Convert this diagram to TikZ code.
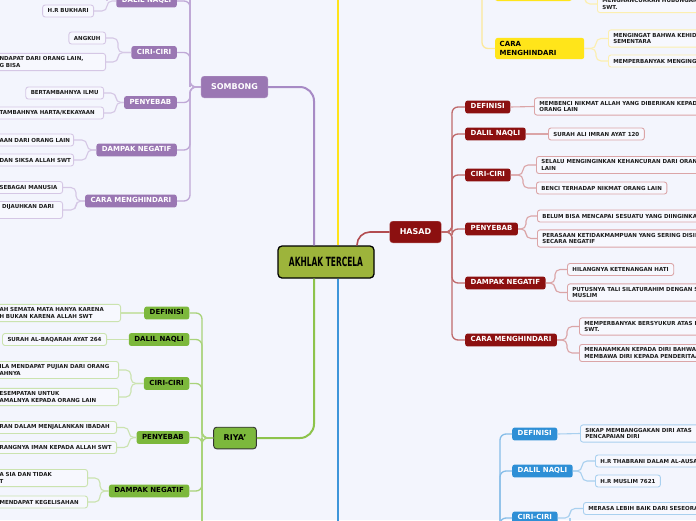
\documentclass[tikz,border=0pt]{standalone}
\usepackage{fontspec}
\setmainfont{DejaVu Sans}
\usepackage{graphicx}
\newcommand\lline[1]{\mbox{#1}}
\definecolor{bgc}{HTML}{F3F5FD}
\definecolor{leafF}{HTML}{F7F8FE}
\definecolor{leafT}{HTML}{1C1C1C}
\definecolor{fillP}{HTML}{9A77B3}\definecolor{mainP}{HTML}{A78AC5}\definecolor{subP}{HTML}{BFA8D6}\definecolor{lfP}{HTML}{D5C7E5}
\definecolor{fillG}{HTML}{7CB83C}\definecolor{mainG}{HTML}{8DC34B}\definecolor{subG}{HTML}{A9D37A}\definecolor{lfG}{HTML}{CBE3AF}
\definecolor{fillR}{HTML}{8C1010}\definecolor{mainR}{HTML}{B24C50}\definecolor{subR}{HTML}{BF6A6C}\definecolor{lfR}{HTML}{DBA5A7}
\definecolor{fillB}{HTML}{2E8FD6}\definecolor{mainB}{HTML}{3D95DA}\definecolor{subB}{HTML}{86BDE8}\definecolor{lfB}{HTML}{A9D0EF}
\definecolor{fillY}{HTML}{FFE51A}\definecolor{mainY}{HTML}{FFE41A}\definecolor{subY}{HTML}{FCE89A}\definecolor{lfY}{HTML}{FCEFB0}
\definecolor{fillC}{HTML}{9DB43B}
\tikzset{
  leaf/.style={draw, line width=0.9pt, fill=leafF, rounded corners=2.5pt, font=\fontsize{5.5}{6.6}\selectfont\bfseries, text=leafT, inner xsep=5pt, inner ysep=3.2pt, align=left, minimum height=12pt},
  br/.style={rounded corners=2.5pt, font=\fontsize{7}{9}\selectfont\bfseries, inner xsep=5.5pt, inner ysep=3pt, text height=5.4pt, text depth=1.5pt},
  mainbr/.style={rounded corners=3pt, font=\fontsize{8}{10}\selectfont\bfseries, inner xsep=10pt, inner ysep=7pt, text height=6pt, text depth=1.6pt},
  brP/.style={br, fill=fillP, text=white, anchor=east},
  brG/.style={br, fill=fillG, text=black, anchor=east},
  brR/.style={br, fill=fillR, text=white, anchor=west},
  brB/.style={br, fill=fillB, text=white, anchor=west},
  lfPs/.style={leaf, draw=lfP, anchor=east},
  lfGs/.style={leaf, draw=lfG, anchor=east},
  lfRs/.style={leaf, draw=lfR, anchor=west},
  lfBs/.style={leaf, draw=lfB, anchor=west},
  lfYs/.style={leaf, draw=lfY, anchor=west},
  cP/.style={draw=mainP, line width=2pt, rounded corners=14pt},
  cG/.style={draw=mainG, line width=2pt, rounded corners=14pt},
  cR/.style={draw=mainR, line width=1.6pt, rounded corners=13pt},
  cB/.style={draw=mainB, line width=2pt},
  cY/.style={draw=mainY, line width=2pt},
  sP/.style={draw=subP, line width=1.3pt, rounded corners=6pt},
  sG/.style={draw=subG, line width=1.3pt, rounded corners=6pt},
  sR/.style={draw=subR, line width=1.3pt, rounded corners=6pt},
  sB/.style={draw=subB, line width=1.3pt, rounded corners=6pt},
  sY/.style={draw=subY, line width=1.3pt, rounded corners=6pt},
  kP/.style={draw=lfP, line width=1.1pt, rounded corners=5pt},
  kG/.style={draw=lfG, line width=1.1pt, rounded corners=5pt},
  kR/.style={draw=lfR, line width=1.1pt, rounded corners=5pt},
  kB/.style={draw=lfB, line width=1.1pt, rounded corners=5pt},
  kY/.style={draw=lfY, line width=1.1pt, rounded corners=5pt},
}
\begin{document}
\begin{tikzpicture}[x=1pt,y=-1pt]
\useasboundingbox (0,0) rectangle (696,520);
\fill[bgc] (0,0) rectangle (696,520);
\clip (0,0) rectangle (696,520);

% ---------- coordinates ----------
\coordinate (pv) at (314,0);
\coordinate (yv) at (338,0);
\coordinate (ytop) at (338,-10);
\coordinate (rv) at (357,0);
\coordinate (bbot) at (338,530);

% ---------- center ----------
\node[fill=fillC, draw=black, line width=1.3pt, rounded corners=4pt, minimum width=96pt, minimum height=32pt, inner sep=0pt] (ak) at (326,262)
  {\scalebox{0.59}[1]{\fontsize{12.7}{14}\selectfont\bfseries AKHLAK TERCELA}};

% ---------- main branches ----------
\node[mainbr, fill=fillP, draw=fillP!80!white, text=white] (som) at (234.5,87) {SOMBONG};
\node[mainbr, fill=fillG, draw=black!80, line width=0.9pt, text=black] (riya) at (235,438) {RIYA'};
\node[mainbr, fill=fillR, draw=fillR!70!white, text=white] (has) at (415.5,232) {HASAD};

\draw[cP] (ak.north -| pv) |- (som.east);
\draw[cG] (ak.south -| pv) |- (riya.east);
\draw[cR] (ak.north -| rv) |- (has.west);
\draw[cY] (ak.north -| yv) -- (ytop);
\draw[cB] (ak.south -| yv) -- (bbot);

% ================= SOMBONG =================
\coordinate (sv) at (190,0);
\coordinate (svtop) at (190,-10);
\node[brP] (sdn) at (177,1) {DALIL NAQLI};
\node[brP] (scc) at (177,52.5) {CIRI-CIRI};
\node[brP] (spy) at (177,102.5) {PENYEBAB};
\node[brP] (sdp) at (177,150) {DAMPAK NEGATIF};
\node[brP] (scm) at (177,201) {CARA MENGHINDARI};
\foreach \c in {sdn,scc,spy,sdp,scm} \draw[sP] (som.west) -- (som.west -| sv) |- (\c.east);
\draw[sP] (som.west -| sv) -- (svtop);

\node[lfPs] (sl1) at (94,11) {H.R BUKHARI};
\coordinate (sf1) at (107,0); \coordinate (sf1t) at (107,-10);
\draw[kP] (sdn.west) -- (sdn.west -| sf1) |- (sl1.east);
\draw[kP] (sdn.west -| sf1) -- (sf1t);

\node[lfPs] (sl2) at (106,38) {ANGKUH};
\node[lfPs, text width=101pt] (sl3) at (106,62) {\lline{NDAPAT DARI ORANG LAIN,}\\\lline{G BISA}};
\coordinate (sf2) at (118,0);
\foreach \c in {sl2,sl3} \draw[kP] (scc.west) -- (scc.west -| sf2) |- (\c.east);

\node[lfPs] (sl4) at (104,93) {BERTAMBAHNYA ILMU};
\node[lfPs, text width=99pt] (sl5) at (104,113) {\lline{TAMBAHNYA HARTA/KEKAYAAN}};
\coordinate (sf3) at (116,0);
\foreach \c in {sl4,sl5} \draw[kP] (spy.west) -- (spy.west -| sf3) |- (\c.east);

\node[lfPs, text width=69pt] (sl6) at (74,140) {\lline{AAN DARI ORANG LAIN}};
\node[lfPs, text width=69pt] (sl7) at (74,160) {\lline{DAN SIKSA ALLAH SWT}};
\coordinate (sf4) at (87,0);
\foreach \c in {sl6,sl7} \draw[kP] (sdp.west) -- (sdp.west -| sf4) |- (\c.east);

\node[lfPs, text width=58pt] (sl8) at (63,187.5) {\lline{SEBAGAI MANUSIA}};
\node[lfPs, text width=58pt] (sl9) at (63,210) {\lline{\hspace*{2.5pt}DIJAUHKAN DARI}\\\mbox{}};
\coordinate (sf5) at (76,0);
\foreach \c in {sl8,sl9} \draw[kP] (scm.west) -- (scm.west -| sf5) |- (\c.east);

% ================= RIYA' =================
\coordinate (gv) at (202,0);
\coordinate (gvb) at (202,530);
\node[brG] (rdf) at (189.5,313) {DEFINISI};
\node[brG] (rdn) at (189.5,339.5) {DALIL NAQLI};
\node[brG] (rcc) at (189.5,383.5) {CIRI-CIRI};
\node[brG] (rpy) at (189.5,437.5) {PENYEBAB};
\node[brG] (rdp) at (189.5,491) {DAMPAK NEGATIF};
\foreach \c in {rdf,rdn,rcc,rpy,rdp} \draw[sG] (riya.west) -- (riya.west -| gv) |- (\c.east);
\draw[sG] (riya.west -| gv) -- (gvb);

\node[lfGs, text width=116pt] (gl1) at (121,313) {\lline{AH SEMATA MATA HANYA KARENA}\\\lline{H BUKAN KARENA ALLAH SWT}};
\draw[kG] (rdf.west) -- (gl1.east);
\node[lfGs] (gl2) at (107,339.5) {SURAH AL-BAQARAH AYAT 264};
\draw[kG] (rdn.west) -- (gl2.east);
\node[lfGs, text width=114pt] (gl3) at (119,370) {\lline{ILA MENDAPAT PUJIAN DARI ORANG}\\\lline{AHNYA}};
\node[lfGs, text width=114pt] (gl4) at (119,397) {\lline{ESEMPATAN UNTUK}\\\lline{AMALNYA KEPADA ORANG LAIN}};
\coordinate (gf3) at (131,0);
\foreach \c in {gl3,gl4} \draw[kG] (rcc.west) -- (rcc.west -| gf3) |- (\c.east);
\node[lfGs, text width=112pt] (gl5) at (117,427.5) {\lline{RAN DALAM MENJALANKAN IBADAH}};
\node[lfGs, text width=112pt] (gl6) at (117,447.5) {\lline{RANGNYA IMAN KEPADA ALLAH SWT}};
\coordinate (gf4) at (129,0);
\foreach \c in {gl5,gl6} \draw[kG] (rpy.west) -- (rpy.west -| gf4) |- (\c.east);
\node[lfGs, text width=83pt] (gl7) at (88,478) {\lline{A SIA DAN TIDAK}\\\lline{T}};
\node[lfGs, text width=83pt] (gl8) at (88,502) {\lline{MENDAPAT KEGELISAHAN}};
\coordinate (gf5) at (100,0);
\foreach \c in {gl7,gl8} \draw[kG] (rdp.west) -- (rdp.west -| gf5) |- (\c.east);

% ================= HASAD =================
\coordinate (hv) at (452,0);
\node[brR] (hdf) at (465,107) {DEFINISI};
\node[brR] (hdn) at (465,134) {DALIL NAQLI};
\node[brR] (hcc) at (465,175) {CIRI-CIRI};
\node[brR] (hpy) at (465,229) {PENYEBAB};
\node[brR] (hdp) at (465,283) {DAMPAK NEGATIF};
\node[brR] (hcm) at (465,340) {CARA MENGHINDARI};
\foreach \c in {hdf,hdn,hcc,hpy,hdp,hcm} \draw[sR] (has.east) -- (has.east -| hv) |- (\c.west);

\node[lfRs, text width=220pt] (hl1) at (534,106.5) {MEMBENCI NIKMAT ALLAH YANG DIBERIKAN KEPADA\\ORANG LAIN};
\draw[kR] (hdf.east) -- (hl1.west);
\node[lfRs] (hl2) at (548,134) {SURAH ALI IMRAN AYAT 120};
\draw[kR] (hdn.east) -- (hl2.west);
\node[lfRs, text width=220pt] (hl3) at (536,165) {SELALU MENGINGINKAN KEHANCURAN DARI ORANG\\LAIN};
\node[lfRs] (hl4) at (536,188) {BENCI TERHADAP NIKMAT ORANG LAIN};
\coordinate (hf3) at (523,0);
\foreach \c in {hl3,hl4} \draw[kR] (hcc.east) -- (hcc.east -| hf3) |- (\c.west);
\node[lfRs, text width=220pt] (hl5) at (537,216) {BELUM BISA MENCAPAI SESUATU YANG DIINGINKAN};
\node[lfRs, text width=220pt] (hl6) at (537,238.5) {PERASAAN KETIDAKMAMPUAN YANG SERING DISIKAPI\\SECARA NEGATIF};
\coordinate (hf4) at (526,0);
\foreach \c in {hl5,hl6} \draw[kR] (hpy.east) -- (hpy.east -| hf4) |- (\c.west);
\node[lfRs] (hl7) at (567,269.5) {HILANGNYA KETENANGAN HATI};
\node[lfRs, text width=220pt] (hl8) at (567,292.5) {PUTUSNYA TALI SILATURAHIM DENGAN SESAMA\\MUSLIM};
\coordinate (hf5) at (555,0);
\foreach \c in {hl7,hl8} \draw[kR] (hdp.east) -- (hdp.east -| hf5) |- (\c.west);
\node[lfRs, text width=220pt] (hl9) at (579,326.5) {MEMPERBANYAK BERSYUKUR ATAS NIKMAT\\SWT.};
\node[lfRs, text width=220pt] (hl10) at (579,353) {MENANAMKAN KEPADA DIRI BAHWA HASAD\\MEMBAWA DIRI KEPADA PENDERITAAN};
\coordinate (hf6) at (567,0);
\foreach \c in {hl9,hl10} \draw[kR] (hcm.east) -- (hcm.east -| hf6) |- (\c.west);

% ================= BLUE =================
\coordinate (bv) at (500,530);
\node[brB] (bdf) at (512,434) {DEFINISI};
\node[brB] (bdn) at (512,471) {DALIL NAQLI};
\node[brB] (bcc) at (512,518) {CIRI-CIRI};
\foreach \c in {bdf,bdn,bcc} \draw[sB] (bv) |- (\c.west);
\node[lfBs, text width=220pt] (bl1) at (580,433.5) {SIKAP MEMBANGGAKAN DIRI ATAS\\PENCAPAIAN DIRI};
\draw[kB] (bdf.east) -- (bl1.west);
\node[lfBs, text width=220pt] (bl2) at (595,461) {H.R THABRANI DALAM AL-AUSATH};
\node[lfBs] (bl3) at (595,481) {H.R MUSLIM 7621};
\coordinate (bf2) at (582,0);
\foreach \c in {bl2,bl3} \draw[kB] (bdn.east) -- (bdn.east -| bf2) |- (\c.west);
\node[lfBs, text width=220pt] (bl4) at (583,508.5) {MERASA LEBIH BAIK DARI SESEORANG};
\coordinate (bf3) at (570,0);
\coordinate (bf3b) at (570,530);
\draw[kB] (bcc.east) -- (bcc.east -| bf3) |- (bl4.west);
\draw[kB] (bcc.east -| bf3) -- (bf3b);

% ================= YELLOW =================
\coordinate (yvt) at (482,-10);
\node[fill=fillY, rounded corners=2.5pt, minimum width=77pt, minimum height=13pt, inner sep=0pt] (ytp) at (533.5,-5.5) {};
\node[fill=fillY, rounded corners=2.5pt, anchor=west, text width=80pt, align=left, inner xsep=4.5pt, inner ysep=3.5pt, font=\fontsize{7}{9}\selectfont\bfseries, text=black] (ycm) at (495,48.5) {CARA\\MENGHINDARI};
\draw[sY] (yvt) |- (ycm.west);
\node[lfYs, text width=220pt, anchor=south west] (yl1) at (597,13) {MENGHANCURKAN HUBUNGAN DENGAN ALLAH\\SWT.};
\coordinate (yf1) at (585,0);
\draw[kY] (ytp.east) -- (ytp.east -| yf1) |- (yl1.west);
\node[lfYs, text width=220pt] (yl2) at (608,38.5) {MENGINGAT BAHWA KEHIDUPAN\\SEMENTARA};
\node[lfYs, text width=220pt] (yl3) at (608,61) {MEMPERBANYAK MENGINGAT};
\coordinate (yf2) at (596,0);
\foreach \c in {yl2,yl3} \draw[kY] (ycm.east) -- (ycm.east -| yf2) |- (\c.west);
\end{tikzpicture}
\end{document}
